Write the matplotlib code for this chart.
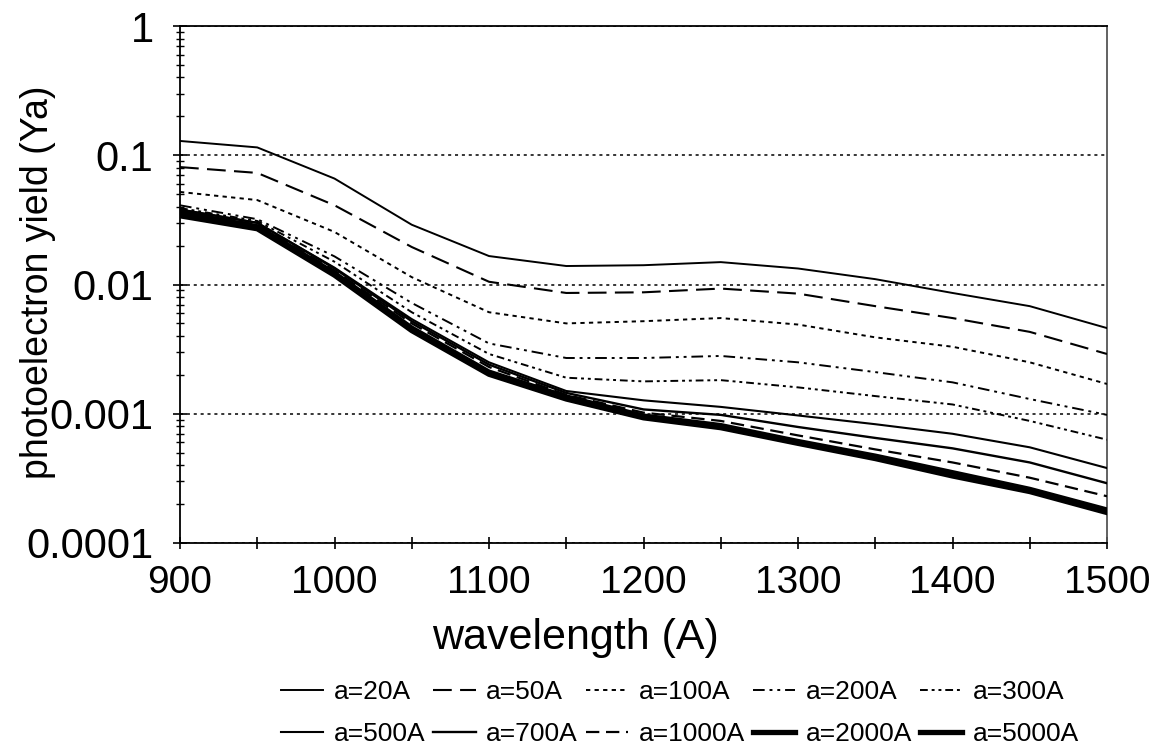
import matplotlib
matplotlib.use("Agg")
import matplotlib.pyplot as plt
from matplotlib.ticker import MultipleLocator, FixedLocator, FixedFormatter, LogLocator, NullFormatter

plt.rcParams['font.family'] = ['Liberation Sans', 'DejaVu Sans']

# ---- data ----
wavelength = [900, 950, 1000, 1050, 1100, 1150, 1200, 1250, 1300, 1350, 1400, 1450, 1500]

y_20A   = [0.129, 0.115, 0.066, 0.029, 0.0166, 0.0139, 0.0141, 0.0149, 0.0133, 0.0110, 0.0086, 0.0068, 0.0046]
y_50A   = [0.081, 0.073, 0.041, 0.0195, 0.0105, 0.0086, 0.0087, 0.0093, 0.0085, 0.0068, 0.0055, 0.0043, 0.0029]
y_100A  = [0.052, 0.045, 0.0255, 0.0114, 0.0061, 0.0050, 0.0052, 0.0055, 0.0049, 0.0039, 0.0033, 0.0025, 0.0017]
y_200A  = [0.041, 0.032, 0.0165, 0.0072, 0.0035, 0.0027, 0.0027, 0.0028, 0.0025, 0.0021, 0.00175, 0.0013, 0.00098]
y_300A  = [0.039, 0.031, 0.0150, 0.0061, 0.0029, 0.0019, 0.00178, 0.00182, 0.0016, 0.00137, 0.00118, 0.00088, 0.00063]
y_500A  = [0.038, 0.030, 0.0135, 0.0054, 0.0025, 0.0015, 0.00127, 0.00113, 0.00097, 0.00083, 0.00070, 0.00055, 0.00038]
y_700A  = [0.038, 0.030, 0.0133, 0.0052, 0.0024, 0.00145, 0.00108, 0.00098, 0.00079, 0.00065, 0.00054, 0.00042, 0.00029]
y_1000A = [0.037, 0.029, 0.0128, 0.0050, 0.0023, 0.0014, 0.00102, 0.00088, 0.00068, 0.00053, 0.00042, 0.00032, 0.00023]
y_2000A = [0.036, 0.028, 0.0122, 0.0046, 0.0021, 0.00135, 0.00096, 0.00081, 0.00061, 0.00047, 0.00035, 0.00026, 0.00018]
y_5000A = [0.034, 0.027, 0.0118, 0.0044, 0.00202, 0.0013, 0.00093, 0.00078, 0.00059, 0.00045, 0.00033, 0.00025, 0.000172]

labels = ['a=20A', 'a=50A', 'a=100A', 'a=200A', 'a=300A',
          'a=500A', 'a=700A', 'a=1000A', 'a=2000A', 'a=5000A']
series = [y_20A, y_50A, y_100A, y_200A, y_300A,
          y_500A, y_700A, y_1000A, y_2000A, y_5000A]

y_tick_values = [0.0001, 0.001, 0.01, 0.1, 1]
y_tick_labels = ['0.0001', '0.001', '0.01', '0.1', '1']
x_tick_values = [900, 1000, 1100, 1200, 1300, 1400, 1500]
x_tick_labels = ['900', '1000', '1100', '1200', '1300', '1400', '1500']

# ---- styles ----
styles = [
    dict(ls='-', lw=1.4),
    dict(ls=(0, (9, 4)), lw=1.5),
    dict(ls=(0, (2.2, 2.2)), lw=1.4),
    dict(ls=(0, (6, 2.5, 1.5, 2.5, 1.5, 2.5)), lw=1.4),
    dict(ls=(0, (4, 2, 1.5, 2, 1.5, 2)), lw=1.4),
    dict(ls='-', lw=1.5),
    dict(ls='-', lw=1.7),
    dict(ls=(0, (6, 3)), lw=1.6),
    dict(ls='-', lw=3.8),
    dict(ls='-', lw=3.8),
]

fig = plt.figure(figsize=(11.49, 7.52), dpi=100)
ax = fig.add_axes([180/1149, 1-543/752, (1107-180)/1149, (543-26)/752])

handles = []
for ys, lab, st in zip(series, labels, styles):
    h, = ax.plot(wavelength, ys, color='black', label=lab, zorder=3, **st)
    handles.append(h)

ax.set_yscale('log')
ax.set_xlim(900, 1500)
ax.set_ylim(1e-4, 1)

ax.yaxis.set_major_locator(FixedLocator(y_tick_values))
ax.yaxis.set_major_formatter(FixedFormatter(y_tick_labels))
ax.yaxis.set_minor_locator(LogLocator(base=10, subs=range(2, 10)))
ax.yaxis.set_minor_formatter(NullFormatter())
ax.grid(axis='y', which='major', color='black', linestyle=(0, (2, 2.5)), lw=1.1, zorder=1)

ax.xaxis.set_major_locator(FixedLocator(x_tick_values))
ax.xaxis.set_major_formatter(FixedFormatter(x_tick_labels))
ax.xaxis.set_minor_locator(MultipleLocator(50))

ax.tick_params(axis='x', which='both', direction='inout', length=9, width=1.2,
               labelsize=28, pad=11)
ax.tick_params(axis='y', which='major', direction='inout', length=10, width=1.2,
               labelsize=30, pad=14)
ax.tick_params(axis='y', which='minor', direction='inout', length=6, width=1.0)

for sp in ax.spines.values():
    sp.set_linewidth(1.3)
    sp.set_color('black')
ax.spines['right'].set_color('#555555')

ax.set_xlabel('wavelength (A)', fontsize=31)
ax.xaxis.set_label_coords(0.427, -0.145)
ax.set_ylabel('photoelectron yield (Ya)', fontsize=27)
ax.yaxis.set_label_coords(-0.134, 0.505)

order = [0, 5, 1, 6, 2, 7, 3, 8, 4, 9]
leg = fig.legend([handles[i] for i in order], [labels[i] for i in order],
                 ncol=5, loc='center', bbox_to_anchor=(680/1149, 1-713/752),
                 frameon=False, fontsize=19, handlelength=1.6, handletextpad=0.4,
                 columnspacing=0.3, labelspacing=0.7, borderpad=0)

fig.savefig('out.png', dpi=100)
